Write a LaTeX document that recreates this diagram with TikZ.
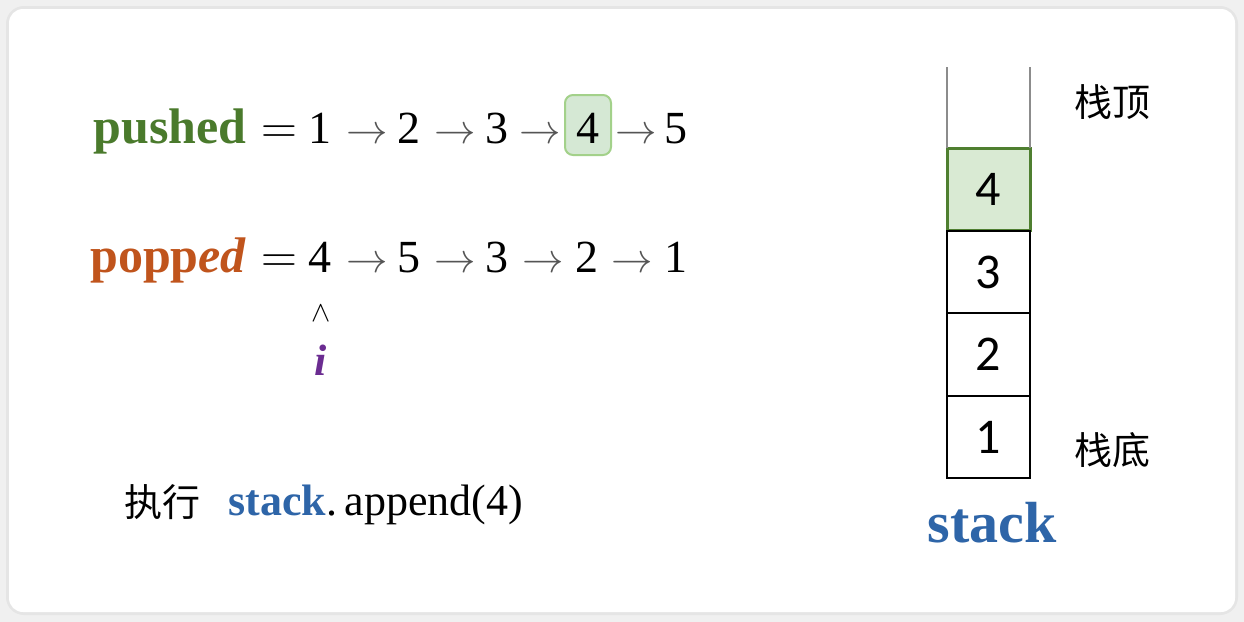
\documentclass[tikz,border=0pt]{standalone}
\usepackage{fontspec}
\setmainfont{Liberation Serif}
\newfontfamily\cjk{Noto Sans CJK SC}
\newfontfamily\cellfont{Carlito}
\definecolor{pgreen}{HTML}{4A7A2C}
\definecolor{porange}{HTML}{C0541C}
\definecolor{ppurple}{HTML}{6B2C91}
\definecolor{pblue}{HTML}{2E65A8}
\definecolor{cellfill}{HTML}{D9EAD3}
\definecolor{cellline}{HTML}{4F7F30}
\definecolor{boxfill}{HTML}{D5E8D4}
\definecolor{boxline}{HTML}{A3D18A}
\definecolor{arrowgray}{HTML}{555555}
\tikzset{
  txt/.style={inner sep=0pt, font=\fontsize{23}{26}\selectfont},
  arr/.style={inner sep=0pt, text=arrowgray, font=\fontsize{22}{26}\selectfont},
  cell/.style={draw=black, line width=1pt, outer sep=0pt, minimum width=41.5pt, minimum height=41.25pt, inner sep=0pt, font=\cellfont\fontsize{25}{28}\selectfont},
  topcell/.style={cell, fill=cellfill, draw=cellline, line width=1.5pt},
  cjktxt/.style={inner sep=0pt, font=\cjk\fontsize{19}{21}\selectfont},
}
\begin{document}
\begin{tikzpicture}[x=0.5pt,y=-0.5pt]
\useasboundingbox (0,0) rectangle (1244,622);
\fill[black!6] (0,0) rectangle (1244,622);
\draw[black!10, line width=2pt, rounded corners=8pt, fill=white] (8,8) rectangle (1236,613);
\fill[white, rounded corners=7pt] (9,9) rectangle (1235,612);

% pushed row
\node[txt, anchor=base east, text=pgreen, font=\bfseries\fontsize{25}{28}\selectfont] (pushed) at (247,143) {pushed};
\node[txt, anchor=base] (eq1) at (279,143) {$=$};
\node[txt, anchor=base] (p1) at (320,143) {1};
\node[arr, anchor=base] (pa1) at (367,143) {$\rightarrow$};
\node[txt, anchor=base] (p2) at (409,143) {2};
\node[arr, anchor=base] (pa2) at (455,143) {$\rightarrow$};
\node[txt, anchor=base] (p3) at (497,143) {3};
\node[arr, anchor=base] (pa3) at (540,143) {$\rightarrow$};
\node[draw=boxline, fill=boxfill, line width=1pt, rounded corners=4pt, minimum width=23pt, minimum height=30pt, inner sep=0pt] (pbox) at (588,125) {};
\node[txt, anchor=base] (p4) at (588,143) {4};
\node[arr, anchor=base] (pa4) at (636,143) {$\rightarrow$};
\node[txt, anchor=base] (p5) at (676,143) {5};

% popped row
\node[txt, anchor=base east, text=porange, font=\bfseries\fontsize{25}{28}\selectfont] (popped) at (247,272) {popp\textit{ed}};
\node[txt, anchor=base] (eq2) at (279,272) {$=$};
\node[txt, anchor=base] (q1) at (320,272) {4};
\node[arr, anchor=base] (qa1) at (367,272) {$\rightarrow$};
\node[txt, anchor=base] (q2) at (409,272) {5};
\node[arr, anchor=base] (qa2) at (455,272) {$\rightarrow$};
\node[txt, anchor=base] (q3) at (497,272) {3};
\node[arr, anchor=base] (qa3) at (543,272) {$\rightarrow$};
\node[txt, anchor=base] (q4) at (587,272) {2};
\node[arr, anchor=base] (qa4) at (632,272) {$\rightarrow$};
\node[txt, anchor=base] (q5) at (676,272) {1};

% pointer
\node[inner sep=0pt, font=\fontsize{15}{17}\selectfont] (hat) at (321,313) {$\wedge$};
\node[txt, anchor=base, text=ppurple, font=\bfseries\itshape\fontsize{22}{24}\selectfont] (iptr) at (321,375) {i};

% operation
\node[cjktxt] (exec) at (162,502) {执行};
\node[txt, anchor=base west, font=\fontsize{22}{26}\selectfont] (op) at (228,515) {\textcolor{pblue}{\textbf{stack}}.\,append(4)};

% stack
\node[topcell] (c4) at (988.5,189.5) {4};
\node[cell] (c3) at (988.5,272) {3};
\node[cell] (c2) at (988.5,354.5) {2};
\node[cell] (c1) at (988.5,437) {1};
\coordinate (tl) at (947,67);
\draw[black!45, line width=1pt] (c4.north west) -- (c4.north west |- tl);
\draw[black!45, line width=1pt] (c4.north east) -- (c4.north east |- tl);
\node[cjktxt] (top) at (1112,102) {栈顶};
\node[cjktxt] (bottom) at (1112,450) {栈底};
\node[txt, anchor=base, text=pblue, font=\bfseries\fontsize{29}{32}\selectfont] (stacklbl) at (992,542) {stack};
\end{tikzpicture}
\end{document}
